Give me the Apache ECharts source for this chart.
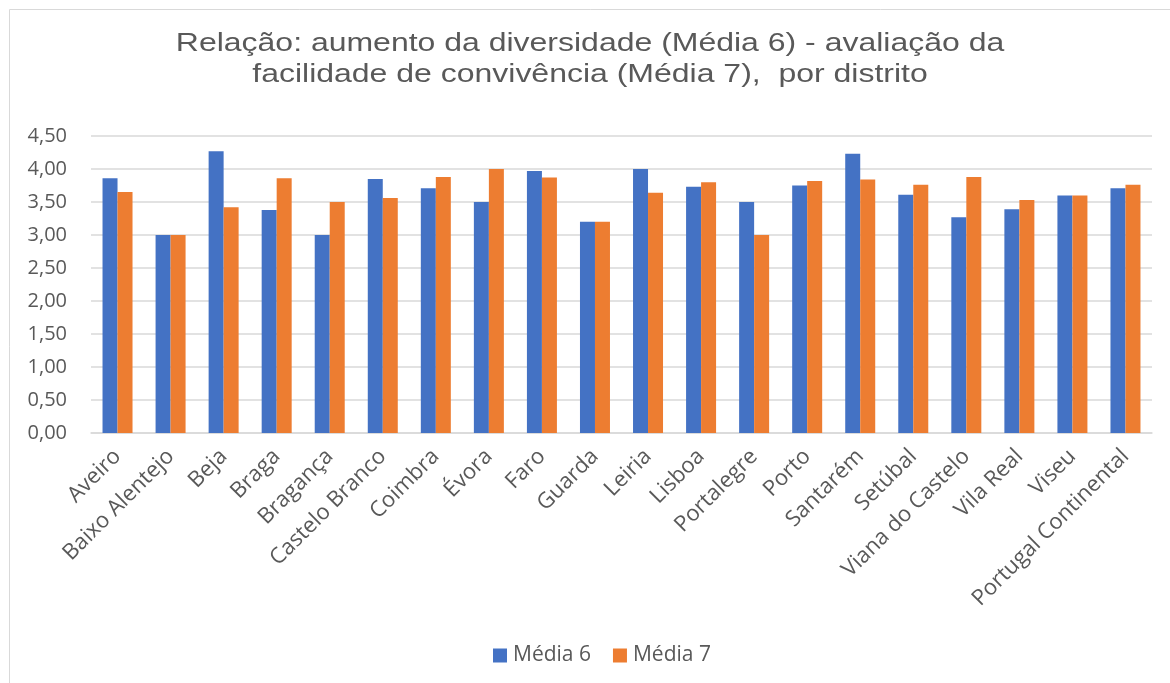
<!DOCTYPE html>
<html>
<head>
<meta charset="utf-8">
<script src="https://cdn.jsdelivr.net/npm/echarts@6/dist/echarts.min.js"></script>
<style>
  html, body { margin: 0; padding: 0; background: #fff; }
  #chart { width: 1170px; height: 683px; }
</style>
</head>
<body>
<div id="chart"></div>
<script>
const titleText = 'Relação: aumento da diversidade (Média 6) - avaliação da\nfacilidade de convivência (Média 7),  por distrito';
const distritos = [
  'Aveiro', 'Baixo Alentejo', 'Beja', 'Braga', 'Bragança', 'Castelo Branco',
  'Coimbra', 'Évora', 'Faro', 'Guarda', 'Leiria', 'Lisboa', 'Portalegre',
  'Porto', 'Santarém', 'Setúbal', 'Viana do Castelo', 'Vila Real', 'Viseu',
  'Portugal Continental'
];
const media6 = [3.86, 3.00, 4.27, 3.38, 3.00, 3.85, 3.71, 3.50, 3.97, 3.20,
  4.00, 3.73, 3.50, 3.75, 4.23, 3.61, 3.27, 3.39, 3.60, 3.71];
const media7 = [3.65, 3.00, 3.42, 3.86, 3.50, 3.56, 3.88, 4.00, 3.87, 3.20,
  3.64, 3.80, 3.00, 3.82, 3.84, 3.76, 3.88, 3.53, 3.60, 3.76];
const yMin = 0;
const yMax = 4.5;
const yStep = 0.5;

const chart = echarts.init(document.getElementById('chart'));

// the labels in the picture use a font close to Open Sans
const labelFont = 'Open Sans, sans-serif';

const option = {
  animation: false,
  graphic: [
    {
      type: 'rect',
      shape: { x: 9.5, y: 9.5, width: 1200, height: 700 },
      style: { fill: 'none', stroke: '#d9d9d9', lineWidth: 1 },
      silent: true,
    },
    {
      // title drawn as text so it can be widened like the original
      type: 'text',
      x: 590,
      y: 28,
      scaleX: 1.23,
      silent: true,
      style: {
        text: titleText,
        fontFamily: 'Liberation Sans, Arial, sans-serif',
        fontSize: 26,
        lineHeight: 31,
        fill: '#595959',
        align: 'center',
        verticalAlign: 'top',
      },
    },
  ],
  legend: {
    data: ['Média 6', 'Média 7'],
    top: 640,
    left: 488,
    icon: 'rect',
    itemWidth: 14,
    itemHeight: 14,
    itemGap: 22,
    textStyle: {
      fontFamily: labelFont,
      fontSize: 21,
      color: '#595959',
      padding: [0, 0, 0, 1],
    },
  },
  grid: {
    left: 91,
    right: 18,
    top: 136,
    bottom: 250,
    containLabel: false,
  },
  xAxis: {
    type: 'category',
    data: distritos,
    axisLine: { lineStyle: { color: '#d9d9d9', width: 1.5 } },
    axisTick: { show: false },
    axisLabel: {
      interval: 0,
      rotate: 45,
      margin: 20,
      fontFamily: labelFont,
      fontSize: 22,
      color: '#595959',
    },
  },
  yAxis: {
    type: 'value',
    min: yMin,
    max: yMax,
    interval: yStep,
    axisLine: { show: false },
    axisTick: { show: false },
    splitLine: { lineStyle: { color: '#d9d9d9', width: 1.5 } },
    axisLabel: {
      margin: 24,
      fontFamily: labelFont,
      fontSize: 20,
      color: '#595959',
      formatter: (v) => v.toFixed(2).replace('.', ','),
    },
  },
  series: [
    {
      name: 'Média 6',
      type: 'bar',
      data: media6,
      barWidth: 15,
      barGap: '0%',
      itemStyle: { color: '#4472C4' },
    },
    {
      name: 'Média 7',
      type: 'bar',
      data: media7,
      barWidth: 15,
      itemStyle: { color: '#ED7D31' },
    },
  ],
};

chart.setOption(option);
</script>
</body>
</html>
